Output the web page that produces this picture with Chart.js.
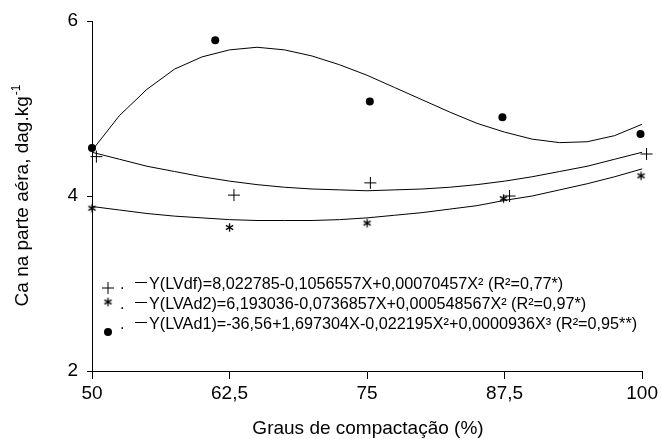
<!DOCTYPE html>
<html>
<head>
<meta charset="utf-8">
<script src="https://cdn.jsdelivr.net/npm/chart.js@4.4.1/dist/chart.umd.min.js"></script>
<style>
html,body{margin:0;padding:0;background:#fff;}
canvas{display:block;}
</style>
</head>
<body>
<canvas id="c" width="661" height="439"></canvas>
<script>
// ---- data ----
const xTicks = [50, 62.5, 75, 87.5, 100];
const xTickLabels = ['50', '62,5', '75', '87,5', '100'];
const yTicks = [2, 4, 6];
const yTickLabels = ['2', '4', '6'];

const xTitle = 'Graus de compactação (%)';
const yTitleMain = 'Ca na parte aéra, dag.kg';
const yTitleSup = '-1';

const curveX = [50, 52.5, 55, 57.5, 60, 62.5, 65, 67.5, 70, 72.5, 75, 77.5, 80, 82.5, 85, 87.5, 90, 92.5, 95, 97.5, 100];
const curveLVdf  = [4.50, 4.42, 4.34, 4.28, 4.22, 4.17, 4.13, 4.10, 4.08, 4.07, 4.06, 4.07, 4.08, 4.10, 4.13, 4.17, 4.22, 4.28, 4.34, 4.42, 4.50];
const curveLVAd2 = [3.88, 3.84, 3.80, 3.77, 3.75, 3.73, 3.72, 3.72, 3.72, 3.73, 3.75, 3.78, 3.81, 3.85, 3.89, 3.95, 4.00, 4.07, 4.14, 4.22, 4.31];
const curveLVAd1 = [4.52, 4.92, 5.22, 5.45, 5.59, 5.67, 5.70, 5.67, 5.60, 5.50, 5.38, 5.24, 5.10, 4.96, 4.83, 4.73, 4.65, 4.61, 4.62, 4.69, 4.82];

const ptsLVdfX  = [50.4, 62.9, 75.3, 87.95, 100.4];
const ptsLVdfY  = [4.45, 4.01, 4.15, 4.00, 4.48];
const ptsLVAd2X = [50.0, 62.5, 75.0, 87.4, 99.9];
const ptsLVAd2Y = [3.86, 3.64, 3.69, 3.97, 4.23];
const ptsLVAd1X = [50.0, 61.2, 75.25, 87.3, 99.85];
const ptsLVAd1Y = [4.55, 5.78, 5.08, 4.90, 4.71];

const legendLabels = [
  'Y(LVdf)=8,022785-0,1056557X+0,00070457X² (R²=0,77*)',
  'Y(LVAd2)=6,193036-0,0736857X+0,000548567X² (R²=0,97*)',
  'Y(LVAd1)=-36,56+1,697304X-0,022195X²+0,0000936X³ (R²=0,95**)'
];

// ---- helpers ----
const FONT = '"Liberation Sans", Arial, Helvetica, sans-serif';
function zip(xs, ys) { return xs.map((x, i) => ({x: x, y: ys[i]})); }

function makeAsterisk() {
  const c = document.createElement('canvas');
  c.width = 11; c.height = 11;
  const g = c.getContext('2d');
  g.strokeStyle = '#000';
  g.lineWidth = 1.3;
  const cx = 5.5, cy = 5.5, r = 4.2;
  [90, 30, 150].forEach(a => {
    const t = a * Math.PI / 180;
    g.beginPath();
    g.moveTo(cx - r * Math.cos(t), cy - r * Math.sin(t));
    g.lineTo(cx + r * Math.cos(t), cy + r * Math.sin(t));
    g.stroke();
  });
  return c;
}
const asterisk = makeAsterisk();

function drawMarker(ctx, kind, x, y) {
  ctx.save();
  ctx.strokeStyle = '#000';
  ctx.fillStyle = '#000';
  ctx.lineWidth = 1;
  if (kind === 'cross') {
    ctx.beginPath();
    ctx.moveTo(x - 6, y); ctx.lineTo(x + 6, y);
    ctx.moveTo(x, y - 6); ctx.lineTo(x, y + 6);
    ctx.stroke();
  } else if (kind === 'star') {
    ctx.drawImage(asterisk, x - 5.5, y - 5.5);
  } else {
    ctx.beginPath();
    ctx.arc(x, y, 4, 0, Math.PI * 2);
    ctx.fill();
  }
  ctx.restore();
}

const decorPlugin = {
  id: 'decor',
  afterDraw(chart) {
    const ctx = chart.ctx;
    ctx.save();
    ctx.fillStyle = '#000';
    // x title
    ctx.font = '19px ' + FONT;
    ctx.textAlign = 'center';
    ctx.textBaseline = 'alphabetic';
    ctx.fillText(xTitle, 368, 434);
    // y title (rotated)
    ctx.save();
    ctx.translate(28, 196);
    ctx.rotate(-Math.PI / 2);
    ctx.font = '19px ' + FONT;
    const wMain = ctx.measureText(yTitleMain).width;
    ctx.font = '12px ' + FONT;
    const wSup = ctx.measureText(yTitleSup).width;
    const start = -(wMain + wSup) / 2;
    ctx.textAlign = 'left';
    ctx.font = '19px ' + FONT;
    ctx.fillText(yTitleMain, start, 0);
    ctx.font = '12px ' + FONT;
    ctx.fillText(yTitleSup, start + wMain + 1, -8);
    ctx.restore();
    // legend
    const kinds = ['cross', 'star', 'dot'];
    const markerY = [288, 302, 332];
    const baseY = [289, 309, 329];
    ctx.font = '16.2px ' + FONT;
    ctx.textAlign = 'left';
    for (let i = 0; i < 3; i++) {
      drawMarker(ctx, kinds[i], 108, markerY[i]);
      ctx.fillText('.', 120, baseY[i]);
      ctx.beginPath();
      ctx.strokeStyle = '#000';
      ctx.lineWidth = 1;
      ctx.moveTo(135, baseY[i] - 6.5);
      ctx.lineTo(147, baseY[i] - 6.5);
      ctx.stroke();
      ctx.fillText(legendLabels[i], 149, baseY[i]);
    }
    ctx.restore();
  }
};

const lineDs = (data) => ({
  data: data, showLine: true, borderColor: '#000', borderWidth: 1,
  pointRadius: 0, tension: 0, fill: false, clip: false
});

new Chart(document.getElementById('c'), {
  type: 'scatter',
  data: {
    datasets: [
      lineDs(zip(curveX, curveLVAd1)),
      lineDs(zip(curveX, curveLVdf)),
      lineDs(zip(curveX, curveLVAd2)),
      { data: zip(ptsLVdfX, ptsLVdfY), pointStyle: 'cross', pointRadius: 6, borderColor: '#000', borderWidth: 1, clip: false },
      { data: zip(ptsLVAd2X, ptsLVAd2Y), pointStyle: asterisk, pointRadius: 5, clip: false },
      { data: zip(ptsLVAd1X, ptsLVAd1Y), pointStyle: 'circle', pointRadius: 4, backgroundColor: '#000', borderColor: '#000', borderWidth: 0, clip: false }
    ]
  },
  options: {
    responsive: false,
    animation: false,
    events: [],
    layout: { padding: { left: 0, top: 21, right: 17, bottom: 0 } },
    plugins: { legend: { display: false }, tooltip: { enabled: false } },
    scales: {
      x: {
        type: 'linear', min: 50, max: 100,
        afterBuildTicks: (s) => { s.ticks = xTicks.map(v => ({ value: v })); },
        afterFit: (s) => { s.height = 68; },
        ticks: {
          color: '#000', font: { family: FONT, size: 19 }, padding: 3,
          maxRotation: 0, autoSkip: false,
          callback: (v) => { const i = xTicks.indexOf(v); return i >= 0 ? xTickLabels[i] : ''; }
        },
        grid: { display: true, drawOnChartArea: false, drawTicks: true, tickLength: 8, color: '#000', lineWidth: 1 },
        border: { display: true, color: '#000', width: 1 }
      },
      y: {
        type: 'linear', min: 2, max: 6,
        afterBuildTicks: (s) => { s.ticks = yTicks.map(v => ({ value: v })); },
        afterFit: (s) => { s.width = 92; },
        ticks: {
          color: '#000', font: { family: FONT, size: 19 }, padding: 9,
          callback: (v) => { const i = yTicks.indexOf(v); return i >= 0 ? yTickLabels[i] : ''; }
        },
        grid: { display: true, drawOnChartArea: false, drawTicks: true, tickLength: 5, color: '#000', lineWidth: 1 },
        border: { display: true, color: '#000', width: 1 }
      }
    }
  },
  plugins: [decorPlugin]
});
</script>
</body>
</html>
